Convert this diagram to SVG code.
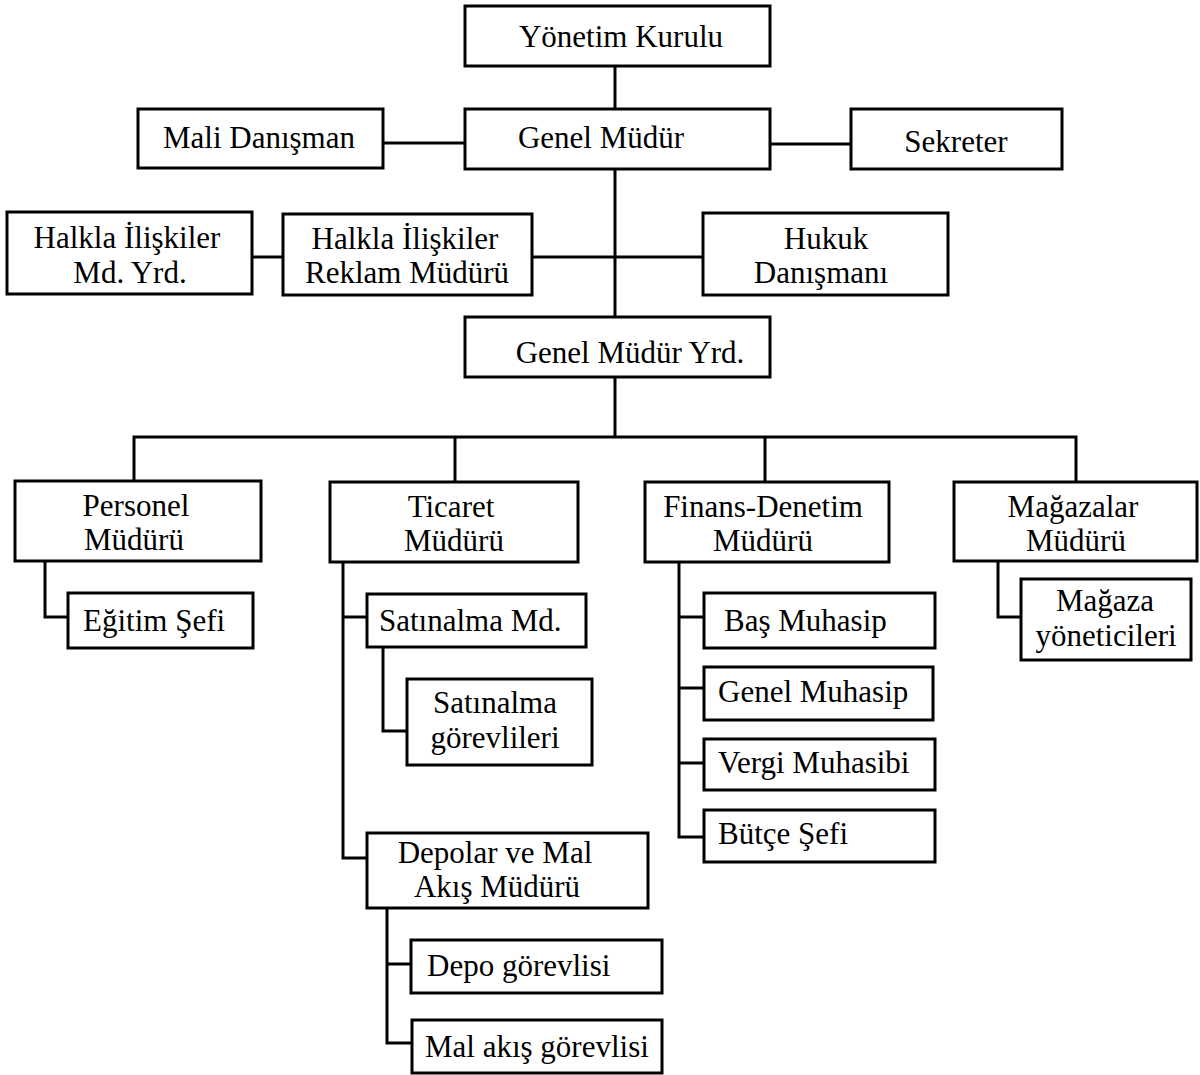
<svg xmlns="http://www.w3.org/2000/svg" width="1200" height="1075" viewBox="0 0 1200 1075">
<style>
rect{fill:#fff;stroke:#000;stroke-width:3}
text{font-family:"Liberation Serif","Times New Roman",serif;font-size:31px;fill:#000;text-anchor:middle}
text.l{text-anchor:start}
#connectors path{fill:none;stroke:#000;stroke-width:3}
</style>
<rect x="0" y="0" width="1200" height="1075" style="stroke:none"/>
<g id="connectors">
<path d="M615 66V109M615 169V317M615 377V437"/>
<path d="M383 143H465M770 144H851"/>
<path d="M252 257H283M532 257H703"/>
<path d="M134 481V437H1076V481M455 437V482M765 437V482"/>
<path d="M45 561V617H68"/>
<path d="M343 562V858H367M343 617H367"/>
<path d="M383 647V731H407"/>
<path d="M387 908V1043H412M387 964H411"/>
<path d="M679 562V837H704M679 617H704M679 688H704M679 763H704"/>
<path d="M998 561V617H1021"/>
</g>
<g id="yonetim-kurulu"><rect x="465" y="6" width="305" height="60"/><text x="621" y="47">Yönetim Kurulu</text></g>
<g id="genel-mudur"><rect x="465" y="109" width="305" height="60"/><text x="601" y="148">Genel Müdür</text></g>
<g id="mali-danisman"><rect x="138" y="109" width="245" height="59"/><text x="259" y="148">Mali Danışman</text></g>
<g id="sekreter"><rect x="851" y="109" width="211" height="60"/><text x="956" y="152">Sekreter</text></g>
<g id="halkla-md-yrd"><rect x="7" y="212" width="245" height="82"/><text x="127" y="248">Halkla İlişkiler</text><text x="130" y="283">Md. Yrd.</text></g>
<g id="halkla-reklam"><rect x="283" y="214" width="249" height="81"/><text x="405" y="249">Halkla İlişkiler</text><text x="407" y="283">Reklam Müdürü</text></g>
<g id="hukuk"><rect x="703" y="213" width="245" height="82"/><text x="826" y="249">Hukuk</text><text x="821" y="283">Danışmanı</text></g>
<g id="genel-mudur-yrd"><rect x="465" y="317" width="305" height="60"/><text x="630" y="363">Genel Müdür Yrd.</text></g>
<g id="personel"><rect x="15" y="481" width="246" height="80"/><text x="136" y="516">Personel</text><text x="134" y="550">Müdürü</text></g>
<g id="ticaret"><rect x="330" y="482" width="248" height="80"/><text x="451" y="517">Ticaret</text><text x="454" y="551">Müdürü</text></g>
<g id="finans"><rect x="645" y="482" width="244" height="80"/><text x="763" y="517">Finans-Denetim</text><text x="763" y="551">Müdürü</text></g>
<g id="magazalar"><rect x="954" y="482" width="243" height="79"/><text x="1073" y="517">Mağazalar</text><text x="1076" y="551">Müdürü</text></g>
<g id="egitim-sefi"><rect x="68" y="593" width="185" height="55"/><text class="l" x="83" y="631">Eğitim Şefi</text></g>
<g id="satinalma-md"><rect x="367" y="594" width="219" height="53"/><text class="l" x="379" y="631">Satınalma Md.</text></g>
<g id="satinalma-gorevlileri"><rect x="407" y="679" width="185" height="86"/><text x="495" y="713">Satınalma</text><text x="495" y="748">görevlileri</text></g>
<g id="depolar"><rect x="367" y="833" width="281" height="75"/><text x="495" y="863">Depolar ve Mal</text><text x="497" y="897">Akış Müdürü</text></g>
<g id="depo-gorevlisi"><rect x="411" y="940" width="251" height="53"/><text class="l" x="427" y="976">Depo görevlisi</text></g>
<g id="mal-akis-gorevlisi"><rect x="412" y="1020" width="250" height="53"/><text class="l" x="425" y="1057">Mal akış görevlisi</text></g>
<g id="bas-muhasip"><rect x="704" y="593" width="231" height="55"/><text class="l" x="724" y="631">Baş Muhasip</text></g>
<g id="genel-muhasip"><rect x="704" y="667" width="229" height="53"/><text class="l" x="718" y="702">Genel Muhasip</text></g>
<g id="vergi-muhasibi"><rect x="704" y="739" width="231" height="51"/><text class="l" x="718" y="773">Vergi Muhasibi</text></g>
<g id="butce-sefi"><rect x="704" y="810" width="231" height="52"/><text class="l" x="718" y="844">Bütçe Şefi</text></g>
<g id="magaza-yoneticileri"><rect x="1021" y="579" width="170" height="81"/><text x="1105" y="611">Mağaza</text><text x="1106" y="646">yöneticileri</text></g>
</svg>
